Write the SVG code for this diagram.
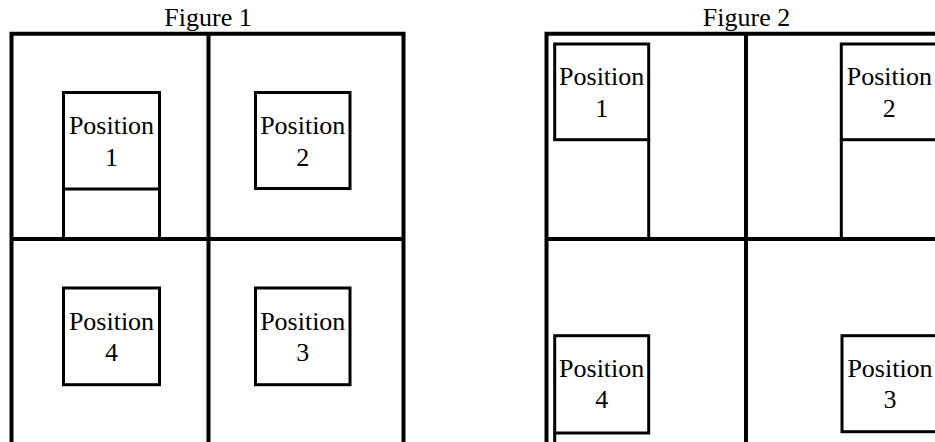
<svg xmlns="http://www.w3.org/2000/svg" width="935" height="442" viewBox="0 0 935 442">
<style>
.frame{stroke:#000;stroke-width:4;fill:none}
.box{stroke:#000;stroke-width:3;fill:none}
text{font-family:"Liberation Serif","Times New Roman",serif;font-size:26px;fill:#000;text-anchor:middle}
</style>
<rect width="935" height="442" fill="#fff"/>
<text id="title1" x="208" y="25.5">Figure 1</text>
<text id="title2" x="746.5" y="25.5">Figure 2</text>
<g id="connectors">
<path class="frame" d="M9.5 33.7H405.5M11.5 31.7V442M208.5 33.7V442M403.5 31.7V442M11.5 239H403.5"/>
<path class="frame" d="M544.5 33.7H935M546.5 31.7V442M746 33.7V442M546.5 239H935"/>
</g>
<g id="f1-pos1">
<rect class="box" x="63.5" y="92.5" width="96" height="96.5"/>
<path class="box" d="M63.5 189V239M159.5 189V239"/>
<text x="111.5" y="134">Position</text><text x="111.5" y="165.5">1</text>
</g>
<g id="f1-pos2">
<rect class="box" x="255.5" y="92.5" width="94.5" height="96"/>
<text x="302.75" y="134">Position</text><text x="302.75" y="165.5">2</text>
</g>
<g id="f1-pos4">
<rect class="box" x="63.5" y="288" width="96" height="96.7"/>
<text x="111.5" y="329.5">Position</text><text x="111.5" y="361">4</text>
</g>
<g id="f1-pos3">
<rect class="box" x="255.5" y="288" width="94.5" height="96.7"/>
<text x="302.75" y="329.5">Position</text><text x="302.75" y="361">3</text>
</g>
<g id="f2-pos1">
<rect class="box" x="554.7" y="44" width="94" height="95.7"/>
<path class="box" d="M648.7 139.7V239"/>
<text x="601.7" y="85">Position</text><text x="601.7" y="116.5">1</text>
</g>
<g id="f2-pos2">
<rect class="box" x="841.3" y="44" width="96" height="95.7"/>
<path class="box" d="M841.3 139.7V239"/>
<text x="889.3" y="85">Position</text><text x="889.3" y="116.5">2</text>
</g>
<g id="f2-pos4">
<rect class="box" x="554.7" y="335.7" width="94" height="97.3"/>
<path class="box" d="M554.7 433V442"/>
<text x="601.7" y="376.7">Position</text><text x="601.7" y="408">4</text>
</g>
<g id="f2-pos3">
<rect class="box" x="842" y="335.7" width="96" height="96"/>
<text x="890" y="376.7">Position</text><text x="890" y="408">3</text>
</g>
</svg>
